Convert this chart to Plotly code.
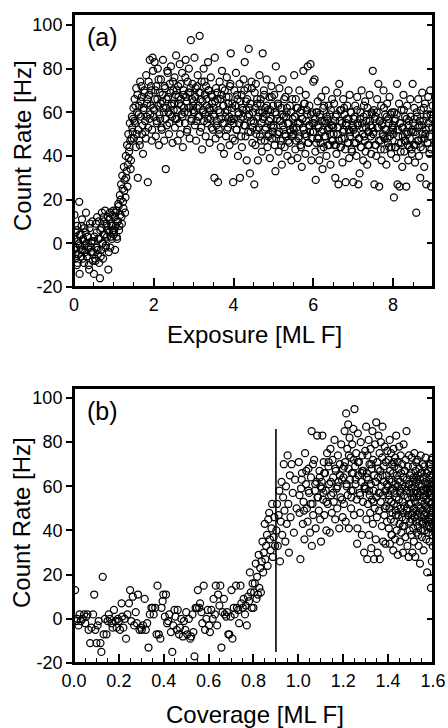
import plotly.graph_objects as go

# ---------------- data: panel (a) count rate vs exposure ----------------
exposure = [
    0.00,0.01,0.03,0.04,0.05,0.07,0.08,0.10,0.11,0.13,0.14,0.15,0.17,0.18,0.20,0.21,0.23,0.25,0.26,0.28,0.30,0.31,0.33,0.35,0.36,0.38,0.40,0.42,0.44,0.47,
    0.50,0.51,0.53,0.55,0.56,0.58,0.60,0.61,0.63,0.65,0.66,0.68,0.70,0.71,0.73,0.75,0.76,0.78,0.80,0.81,0.83,0.85,0.86,0.88,0.90,0.91,0.93,0.95,0.97,0.99,
    1.00,1.02,1.03,1.05,1.06,1.08,1.10,1.11,1.13,1.15,1.16,1.18,1.20,1.21,1.23,1.25,1.26,1.28,1.30,1.31,1.33,1.35,1.36,1.38,1.40,1.41,1.43,1.45,1.47,1.49,
    1.50,1.52,1.53,1.55,1.56,1.58,1.60,1.61,1.63,1.65,1.66,1.68,1.70,1.71,1.73,1.75,1.76,1.78,1.80,1.81,1.83,1.85,1.86,1.88,1.90,1.91,1.93,1.95,1.97,1.99,
    2.00,2.02,2.03,2.05,2.06,2.08,2.10,2.11,2.13,2.15,2.16,2.18,2.20,2.21,2.23,2.25,2.26,2.28,2.30,2.31,2.33,2.35,2.36,2.38,2.40,2.41,2.43,2.45,2.47,2.49,
    2.50,2.52,2.53,2.55,2.56,2.58,2.60,2.61,2.63,2.65,2.66,2.68,2.70,2.71,2.73,2.75,2.76,2.78,2.80,2.81,2.83,2.85,2.86,2.88,2.90,2.91,2.93,2.95,2.97,2.99,
    3.00,3.02,3.03,3.05,3.06,3.08,3.10,3.11,3.13,3.15,3.16,3.18,3.20,3.21,3.23,3.25,3.26,3.28,3.30,3.31,3.33,3.35,3.36,3.38,3.40,3.41,3.43,3.45,3.47,3.49,
    3.50,3.52,3.53,3.55,3.56,3.58,3.60,3.61,3.63,3.65,3.66,3.68,3.70,3.71,3.73,3.75,3.76,3.78,3.80,3.81,3.83,3.85,3.86,3.88,3.90,3.91,3.93,3.95,3.97,3.99,
    4.00,4.02,4.03,4.05,4.06,4.08,4.10,4.11,4.13,4.15,4.16,4.18,4.20,4.21,4.23,4.25,4.26,4.28,4.30,4.31,4.33,4.35,4.36,4.38,4.40,4.41,4.43,4.45,4.47,4.49,
    4.50,4.52,4.53,4.55,4.56,4.58,4.60,4.61,4.63,4.65,4.66,4.68,4.70,4.71,4.73,4.75,4.76,4.78,4.80,4.81,4.83,4.85,4.86,4.88,4.90,4.91,4.93,4.95,4.97,4.99,
    5.00,5.02,5.03,5.05,5.06,5.08,5.10,5.11,5.13,5.15,5.16,5.18,5.20,5.21,5.23,5.25,5.26,5.28,5.30,5.31,5.33,5.35,5.36,5.38,5.40,5.41,5.43,5.45,5.47,5.49,
    5.50,5.52,5.53,5.55,5.56,5.58,5.60,5.61,5.63,5.65,5.66,5.68,5.70,5.71,5.73,5.75,5.76,5.78,5.80,5.81,5.83,5.85,5.86,5.88,5.90,5.91,5.93,5.95,5.97,5.99,
    6.00,6.02,6.03,6.05,6.06,6.08,6.10,6.11,6.13,6.15,6.16,6.18,6.20,6.21,6.23,6.25,6.26,6.28,6.30,6.31,6.33,6.35,6.36,6.38,6.40,6.41,6.43,6.45,6.47,6.49,
    6.50,6.52,6.53,6.55,6.56,6.58,6.60,6.61,6.63,6.65,6.66,6.68,6.70,6.71,6.73,6.75,6.76,6.78,6.80,6.81,6.83,6.85,6.86,6.88,6.90,6.91,6.93,6.95,6.97,6.99,
    7.00,7.02,7.03,7.05,7.06,7.08,7.10,7.11,7.13,7.15,7.16,7.18,7.20,7.21,7.23,7.25,7.26,7.28,7.30,7.31,7.33,7.35,7.36,7.38,7.40,7.41,7.43,7.45,7.47,7.49,
    7.50,7.52,7.53,7.55,7.56,7.58,7.60,7.61,7.63,7.65,7.66,7.68,7.70,7.71,7.73,7.75,7.76,7.78,7.80,7.81,7.83,7.85,7.86,7.88,7.90,7.91,7.93,7.95,7.97,7.99,
    8.00,8.02,8.03,8.05,8.06,8.08,8.10,8.11,8.13,8.15,8.16,8.18,8.20,8.21,8.23,8.25,8.26,8.28,8.30,8.31,8.33,8.35,8.36,8.38,8.40,8.41,8.43,8.45,8.47,8.49,
    8.50,8.52,8.53,8.55,8.56,8.58,8.60,8.61,8.63,8.65,8.66,8.68,8.70,8.71,8.73,8.75,8.76,8.78,8.80,8.81,8.83,8.85,8.86,8.88,8.90,8.91,8.93,8.95,8.97,8.99,
    # second pass of readings (interleaved points)
    0.01,0.04,0.07,0.09,0.12,0.14,0.17,0.19,0.22,0.24,0.27,0.29,0.32,0.34,0.37,0.39,0.42,0.44,0.46,0.48,
    0.51,0.54,0.57,0.59,0.62,0.64,0.67,0.69,0.72,0.74,0.77,0.79,0.82,0.84,0.87,0.89,0.92,0.94,0.96,0.98,
    1.01,1.04,1.07,1.09,1.12,1.14,1.17,1.19,1.22,1.24,1.27,1.29,1.32,1.34,1.37,1.39,1.42,1.44,1.46,1.48,
    1.51,1.54,1.57,1.59,1.62,1.64,1.67,1.69,1.72,1.74,1.77,1.79,1.82,1.84,1.87,1.89,1.92,1.94,1.96,1.98,
    2.01,2.04,2.07,2.09,2.12,2.14,2.17,2.19,2.22,2.24,2.27,2.29,2.32,2.34,2.37,2.39,2.42,2.44,2.46,2.48,
    2.51,2.54,2.57,2.59,2.62,2.64,2.67,2.69,2.72,2.74,2.77,2.79,2.82,2.84,2.87,2.89,2.92,2.94,2.96,2.98,
    3.01,3.04,3.07,3.09,3.12,3.14,3.17,3.19,3.22,3.24,3.27,3.29,3.32,3.34,3.37,3.39,3.42,3.44,3.46,3.48,
    3.51,3.54,3.57,3.59,3.62,3.64,3.67,3.69,3.72,3.74,3.77,3.79,3.82,3.84,3.87,3.89,3.92,3.94,3.96,3.98,
    4.01,4.04,4.07,4.09,4.12,4.14,4.17,4.19,4.22,4.24,4.27,4.29,4.32,4.34,4.37,4.39,4.42,4.44,4.46,4.48,
    4.51,4.54,4.57,4.59,4.62,4.64,4.67,4.69,4.72,4.74,4.77,4.79,4.82,4.84,4.87,4.89,4.92,4.94,4.96,4.98,
    5.01,5.04,5.07,5.09,5.12,5.14,5.17,5.19,5.22,5.24,5.27,5.29,5.32,5.34,5.37,5.39,5.42,5.44,5.46,5.48,
    5.51,5.54,5.57,5.59,5.62,5.64,5.67,5.69,5.72,5.74,5.77,5.79,5.82,5.84,5.87,5.89,5.92,5.94,5.96,5.98,
    6.01,6.04,6.07,6.09,6.12,6.14,6.17,6.19,6.22,6.24,6.27,6.29,6.32,6.34,6.37,6.39,6.42,6.44,6.46,6.48,
    6.51,6.54,6.57,6.59,6.62,6.64,6.67,6.69,6.72,6.74,6.77,6.79,6.82,6.84,6.87,6.89,6.92,6.94,6.96,6.98,
    7.01,7.04,7.07,7.09,7.12,7.14,7.17,7.19,7.22,7.24,7.27,7.29,7.32,7.34,7.37,7.39,7.42,7.44,7.46,7.48,
    7.51,7.54,7.57,7.59,7.62,7.64,7.67,7.69,7.72,7.74,7.77,7.79,7.82,7.84,7.87,7.89,7.92,7.94,7.96,7.98,
    8.01,8.04,8.07,8.09,8.12,8.14,8.17,8.19,8.22,8.24,8.27,8.29,8.32,8.34,8.37,8.39,8.42,8.44,8.46,8.48,
    8.51,8.54,8.57,8.59,8.62,8.64,8.67,8.69,8.72,8.74,8.77,8.79,8.82,8.84,8.87,8.89,8.92,8.94,8.96,8.98,
]
rate_a = [
    -3,13,-7,5,-2,-10,8,1,-5,19,-14,-1,4,-6,11,-3,2,-9,7,-4,14,0,-6,3,-2,-12,9,-4,1,-8,
    -14,3,-7,9,-2,12,-5,2,-9,-16,6,-3,14,0,-7,10,4,15,-1,8,3,12,-12,5,14,-2,9,2,6,15,
    4,12,-3,8,15,2,10,18,6,22,13,27,9,31,19,35,24,14,40,30,45,36,50,42,55,47,38,58,51,62,
    48,66,55,44,71,60,30,52,63,45,74,58,67,50,41,62,70,56,48,77,64,28,53,68,84,59,72,47,85,62,
    58,83,66,49,72,55,80,63,45,69,57,75,52,65,84,60,47,71,34,62,54,78,67,50,73,59,81,64,46,70,
    61,76,53,68,86,57,47,72,64,82,50,66,59,78,44,70,62,55,84,67,51,74,60,80,48,69,93,57,73,63,
    65,85,54,71,47,62,77,58,69,95,51,66,74,43,60,80,56,68,49,72,63,57,83,70,46,61,76,53,67,59,
    62,30,85,48,71,56,66,28,52,74,60,44,68,79,55,63,41,70,58,49,76,61,53,67,45,72,87,57,64,28,
    55,70,47,63,78,52,66,40,59,73,30,57,68,44,61,75,54,83,49,65,38,71,58,89,62,32,51,74,46,60,
    56,27,69,45,73,52,64,38,60,77,49,66,55,42,87,58,70,47,62,53,75,44,61,50,67,39,57,72,48,63,
    54,68,45,33,81,59,50,64,42,71,56,47,62,36,75,52,58,44,67,49,60,40,55,70,46,63,51,38,66,53,
    50,77,58,43,66,53,39,62,48,70,55,45,61,35,57,79,52,64,41,68,49,59,81,46,63,54,82,38,60,51,
    74,55,75,42,29,60,48,65,53,38,58,46,67,51,34,62,44,56,49,70,40,57,52,63,45,59,36,54,66,47,
    53,64,45,30,58,41,69,50,27,73,56,44,61,48,37,66,52,59,43,28,55,63,46,57,39,68,51,60,42,54,
    28,57,46,63,50,40,67,55,27,48,32,60,44,70,53,38,58,49,65,42,56,36,62,51,45,68,54,41,59,79,
    50,61,27,45,58,40,66,53,73,26,56,47,63,38,55,49,70,43,59,52,36,64,48,57,44,67,51,41,60,54,
    52,21,60,44,57,39,73,27,49,64,26,55,46,61,35,53,68,42,58,47,26,63,50,38,56,44,66,51,41,73,
    55,45,62,37,51,14,58,47,66,40,54,30,61,48,69,43,56,35,64,50,27,59,46,67,53,41,70,26,57,63,
    # second pass of readings (interleaved points)
    2,-5,6,-9,0,4,-3,8,-7,1,-1,5,-6,3,-10,7,-2,0,10,-4,
    1,-8,5,-3,10,2,-6,7,0,12,4,-2,9,6,-4,11,3,8,13,5,
    6,14,3,10,17,8,20,12,25,16,29,21,33,26,39,44,34,48,53,57,
    56,63,50,68,59,47,65,72,54,61,69,51,58,66,74,57,63,70,52,79,
    61,70,56,66,75,59,64,53,68,62,72,57,66,79,60,55,69,63,58,74,
    64,57,70,61,67,55,73,63,58,68,60,76,65,52,69,62,71,56,66,61,
    60,67,56,72,63,58,69,53,65,61,74,59,66,55,70,62,57,68,64,52,
    58,65,54,69,61,50,66,57,71,63,55,60,67,52,64,58,73,56,62,48,
    57,63,52,68,60,55,65,49,62,58,70,54,61,66,51,59,64,56,71,53,
    55,62,50,66,58,53,64,47,60,57,68,52,59,63,49,56,61,54,67,51,
    53,60,48,57,63,51,56,45,59,54,66,50,58,62,47,55,52,60,49,57,
    52,58,47,62,55,49,60,44,57,53,64,50,56,61,46,54,51,59,48,55,
    51,57,46,60,54,48,59,43,56,52,63,49,55,58,45,53,50,61,47,54,
    50,56,45,59,53,47,61,44,55,51,62,48,54,57,46,52,49,60,43,53,
    52,58,46,61,54,48,57,44,55,50,63,47,53,59,45,51,56,49,60,53,
    51,57,45,60,53,47,56,43,54,50,62,48,52,58,46,55,49,59,44,53,
    50,56,44,59,52,46,55,42,53,49,61,47,51,57,45,54,48,58,43,52,
    51,57,45,60,53,47,56,44,54,50,62,48,52,58,46,55,49,59,43,53,
]

# ---------------- data: panel (b) count rate vs coverage ----------------
coverage = [
    0.005,0.010,0.015,0.020,0.025,0.030,0.038,0.045,0.050,0.055,0.060,0.065,0.072,0.078,0.085,0.090,0.095,0.100,
    0.105,0.110,0.118,0.122,0.128,0.132,0.138,0.145,0.150,0.155,0.160,0.168,0.172,0.178,0.185,0.190,0.196,
    0.200,0.205,0.212,0.215,0.220,0.226,0.232,0.238,0.245,0.250,0.255,0.262,0.268,0.275,0.280,0.285,0.292,0.298,
    0.302,0.308,0.315,0.320,0.326,0.332,0.338,0.345,0.350,0.355,0.362,0.368,0.372,0.378,0.385,0.390,0.395,0.398,
    0.405,0.410,0.415,0.420,0.425,0.432,0.438,0.442,0.448,0.452,0.458,0.462,0.468,0.472,0.478,0.485,0.490,0.496,
    0.500,0.505,0.512,0.518,0.522,0.528,0.532,0.537,0.542,0.548,0.552,0.558,0.562,0.568,0.572,0.578,0.584,0.590,0.596,
    0.602,0.606,0.612,0.618,0.622,0.628,0.632,0.638,0.642,0.648,0.652,0.657,0.662,0.668,0.672,0.678,0.682,0.688,0.692,0.698,
    0.702,0.706,0.712,0.716,0.722,0.726,0.732,0.736,0.742,0.746,0.752,0.756,0.762,0.766,0.770,0.775,0.780,0.784,0.788,0.792,0.796,
    0.800,0.803,0.806,0.810,0.813,0.816,0.820,0.823,0.826,0.830,0.833,0.836,0.840,0.843,0.846,0.850,0.853,0.856,0.860,0.863,
    0.866,0.870,0.873,0.876,0.880,0.883,0.886,0.890,0.893,0.896,
    0.902,0.905,0.908,0.912,0.915,0.918,0.922,0.925,0.928,0.932,0.935,0.938,0.942,0.945,0.948,0.952,0.955,0.958,0.962,0.965,
    0.970,0.975,0.980,0.985,0.992,
    1.002,1.005,1.009,1.012,1.016,1.020,1.023,1.027,1.030,1.034,1.038,1.041,1.045,1.048,1.052,1.056,1.059,1.063,1.066,1.070,
    1.074,1.077,1.081,1.084,1.088,1.091,1.094,1.097,1.099,1.060,
    1.101,1.104,1.107,1.110,1.113,1.116,1.119,1.122,1.125,1.128,1.131,1.134,1.137,1.140,1.143,1.146,1.149,1.152,1.155,1.158,
    1.161,1.164,1.167,1.170,1.173,1.176,1.179,1.182,1.185,1.188,1.191,1.194,1.197,1.199,1.112,
    1.201,1.203,1.206,1.208,1.211,1.213,1.215,1.218,1.220,1.223,1.225,1.228,1.230,1.233,1.235,1.238,1.240,1.243,1.245,1.248,
    1.250,1.253,1.255,1.258,1.260,1.263,1.265,1.268,1.270,1.273,1.275,1.278,1.280,1.283,1.285,1.288,1.290,1.293,1.295,1.298,
    1.222,1.247,1.262,1.284,1.236,
    1.300,1.302,1.303,1.305,1.307,1.308,1.310,1.312,1.313,1.315,1.317,1.318,1.320,1.322,1.323,1.325,1.327,1.328,1.330,1.332,
    1.333,1.335,1.337,1.338,1.340,1.342,1.343,1.345,1.347,1.348,1.350,1.352,1.353,1.355,1.357,1.358,1.360,1.362,1.363,1.365,
    1.367,1.368,1.370,1.372,1.373,1.375,1.377,1.378,1.380,1.382,1.383,1.385,1.387,1.388,1.390,1.392,1.393,1.395,1.397,1.399,
    1.401,1.402,1.403,1.405,1.406,1.407,1.408,1.409,1.411,1.412,
    1.413,1.414,1.416,1.417,1.418,1.419,1.421,1.422,1.423,1.424,
    1.426,1.427,1.428,1.429,1.431,1.432,1.433,1.434,1.436,1.437,
    1.438,1.439,1.441,1.442,1.443,1.444,1.446,1.447,1.448,1.449,
    1.451,1.452,1.453,1.454,1.456,1.457,1.458,1.459,1.461,1.462,
    1.463,1.464,1.466,1.467,1.468,1.469,1.471,1.472,1.473,1.474,
    1.476,1.477,1.478,1.479,1.481,1.482,1.483,1.484,1.486,1.487,
    1.488,1.489,1.491,1.492,1.493,1.494,1.496,1.497,1.498,1.499,
    1.404,1.415,1.425,1.435,1.445,1.455,1.465,1.475,1.485,1.495,
    1.501,1.502,1.503,1.504,1.505,1.506,1.507,1.508,1.509,1.510,
    1.511,1.512,1.513,1.514,1.515,1.516,1.517,1.518,1.519,1.520,
    1.521,1.522,1.523,1.524,1.525,1.526,1.527,1.528,1.529,1.530,
    1.531,1.532,1.533,1.534,1.535,1.536,1.537,1.538,1.539,1.540,
    1.541,1.542,1.543,1.544,1.545,1.546,1.547,1.548,1.549,1.550,
    1.551,1.552,1.553,1.554,1.555,1.556,1.557,1.558,1.559,1.560,
    1.561,1.562,1.563,1.564,1.565,1.566,1.567,1.568,1.569,1.570,
    1.571,1.572,1.573,1.574,1.575,1.576,1.577,1.578,1.579,1.580,
    1.581,1.582,1.583,1.584,1.585,1.586,1.587,1.588,1.589,1.590,
    1.591,1.592,1.593,1.594,1.595,1.596,1.597,1.598,1.599,1.600,
    1.584,1.588,1.592,1.596,1.599,1.586,1.590,1.594,1.597,1.582,
    1.575,1.565,1.555,1.545,1.535,1.525,1.515,1.505,1.595,1.598,
    1.005,1.015,1.025,1.035,1.045,1.055,1.065,1.075,1.085,1.095,
    1.105,1.115,1.125,1.135,1.145,1.155,1.165,1.175,1.185,1.195,
    1.205,1.215,1.225,1.235,1.245,1.255,1.265,1.275,1.285,1.295,
    1.305,1.315,1.325,1.335,1.345,1.355,1.365,1.375,1.385,1.395,
]
rate_b = [
    13,-1,0,-3,2,-1,0,2,-2,1,2,-5,-11,-4,2,11,-5,-11,
    -3,-1,-11,-15,19,-7,0,-7,-1,2,0,-2,-4,4,-1,-4,0,
    -1,-5,7,1,-4,0,-9,2,7,13,-1,10,-3,3,-2,11,-5,-4,
    -5,-3,9,-5,-2,-13,2,5,5,2,5,-7,15,-7,-9,5,8,11,
    1,11,-2,-1,2,-6,-15,-3,4,1,-5,4,-7,-4,0,-8,-1,-5,
    3,-7,0,-9,-8,2,-6,-17,5,5,13,5,7,3,-2,15,-5,0,4,
    -3,-6,4,0,9,2,15,-3,11,6,15,-13,3,9,2,1,3,-7,-7,1,
    13,-9,5,2,15,5,4,-2,15,7,5,9,2,6,-3,10,8,21,12,5,16,
    5,12,16,25,9,19,11,29,14,23,12,26,35,21,30,43,27,33,38,24,
    45,48,36,31,41,52,28,37,46,33,
    40,52,33,47,58,26,44,62,38,55,70,49,35,60,43,74,52,30,65,46,
    70,57,39,63,50,
    71,48,27,59,66,43,53,36,75,61,50,44,68,57,39,64,85,52,47,72,
    58,41,62,83,55,49,67,45,60,33,
    35,62,83,54,71,47,66,58,40,75,52,69,61,39,77,56,48,72,64,53,
    81,45,67,59,50,74,62,41,70,55,79,63,46,68,57,
    64,52,85,71,44,93,60,77,56,68,41,82,63,73,50,66,79,58,86,47,
    95,69,61,75,54,41,84,65,71,57,48,80,62,38,74,53,67,30,59,76,
    88,72,34,66,55,
    59,87,45,66,27,74,52,63,81,38,70,56,48,77,61,32,68,54,85,43,
    72,58,27,65,50,79,62,36,89,55,46,71,30,64,83,57,49,75,27,67,
    53,80,60,42,73,87,56,35,69,62,47,78,58,34,71,51,65,44,76,60,
    56,72,41,63,50,81,34,67,58,45,
    75,53,62,38,70,48,59,66,31,77,
    52,44,69,57,36,73,61,49,83,55,
    40,65,51,71,29,60,47,68,54,78,
    43,62,35,57,74,50,66,39,59,46,
    70,53,30,64,48,79,56,42,67,51,
    60,37,72,45,58,85,49,63,33,55,
    69,47,61,28,74,52,40,65,57,44,
    54,38,71,47,63,58,42,67,50,61,
    52,66,38,59,45,73,55,30,62,48,
    69,41,57,64,35,50,75,46,60,53,
    28,67,44,58,71,49,39,63,55,47,
    72,57,42,65,51,33,61,48,68,44,
    56,25,63,50,74,40,58,46,66,53,
    37,60,49,70,43,55,64,31,58,47,
    69,52,40,62,56,45,73,48,59,36,
    54,66,42,21,61,50,57,44,67,39,
    53,63,46,70,35,58,49,65,41,56,
    14,60,47,72,52,43,64,38,55,50,
    61,45,68,53,33,57,70,48,62,42,
    59,51,44,66,38,62,55,47,26,73,
    56,63,49,67,58,52,70,61,55,64,
    59,66,53,71,62,57,68,60,65,54,
    69,61,74,58,66,63,71,56,67,60,
    64,58,70,53,62,68,57,65,50,61,
]

# marker line at the critical coverage
critical_coverage = [0.9, 0.9]
critical_line_rate = [-15, 86]

y_tick_values = [-20, 0, 20, 40, 60, 80, 100]
y_tick_text = ["-20", "0", "20", "40", "60", "80", "100"]
x_tick_values_a = [0, 2, 4, 6, 8]
x_tick_values_b = [0.0, 0.2, 0.4, 0.6, 0.8, 1.0, 1.2, 1.4, 1.6]
x_tick_text_b = ["0.0", "0.2", "0.4", "0.6", "0.8", "1.0", "1.2", "1.4", "1.6"]
panel_labels = ["(a)", "(b)"]
x_titles = ["Exposure [ML F]", "Coverage [ML F]"]
y_title = "Count Rate [Hz]"

FONT = "Liberation Sans, Arial, Helvetica, sans-serif"
marker_style = dict(symbol="circle-open", size=7, color="black", line=dict(width=1.25, color="black"))

fig = go.Figure()
fig.add_trace(go.Scatter(x=exposure, y=rate_a, mode="markers", marker=marker_style,
                         xaxis="x", yaxis="y", showlegend=False, hoverinfo="skip"))
fig.add_trace(go.Scatter(x=coverage, y=rate_b, mode="markers", marker=marker_style,
                         xaxis="x2", yaxis="y2", showlegend=False, hoverinfo="skip"))
fig.add_trace(go.Scatter(x=critical_coverage, y=critical_line_rate, mode="lines",
                         line=dict(color="black", width=1.6),
                         xaxis="x2", yaxis="y2", showlegend=False, hoverinfo="skip"))
# empty helper traces so the right-hand (inward tick) axes are drawn
fig.add_trace(go.Scatter(x=[None], y=[None], mode="markers", xaxis="x", yaxis="y3",
                         showlegend=False, hoverinfo="skip"))
fig.add_trace(go.Scatter(x=[None], y=[None], mode="markers", xaxis="x2", yaxis="y4",
                         showlegend=False, hoverinfo="skip"))

xdom = [0.1652, 0.9665]
ydom_a = [0.6058, 0.9808]
ydom_b = [0.0893, 0.4670]

def xax(anchor, rng, tickvals, ticktext, minor_dtick):
    return dict(
        domain=xdom, anchor=anchor, range=rng,
        tickvals=tickvals, ticktext=ticktext,
        ticks="inside", ticklen=9, tickwidth=1.5, tickcolor="black",
        minor=dict(ticks="inside", ticklen=5, tickwidth=1.3, tickcolor="black", dtick=minor_dtick, tick0=0),
        showline=True, linecolor="black", linewidth=2, mirror=True,
        showgrid=False, zeroline=False, automargin=False,
        tickfont=dict(family=FONT, size=18, color="black"),
    )

def yax(dom, anchor, rng):
    return dict(
        domain=dom, anchor=anchor, range=rng,
        tickvals=y_tick_values, ticktext=y_tick_text,
        ticks="outside", ticklen=6, tickwidth=1.5, tickcolor="black",
        showline=True, linecolor="black", linewidth=2, mirror=True,
        showgrid=False, zeroline=False, automargin=False,
        tickfont=dict(family=FONT, size=18, color="black"),
    )

def yright(over, anchor, rng):
    return dict(
        overlaying=over, anchor=anchor, side="right", range=rng,
        tickvals=y_tick_values, showticklabels=False,
        ticks="inside", ticklen=6, tickwidth=1.5, tickcolor="black",
        showline=True, linecolor="black", linewidth=2,
        showgrid=False, zeroline=False, automargin=False,
    )

yrange_a = [-20, 105]
yrange_b = [-20, 104.5]

title_font = dict(family=FONT, size=24, color="black")
label_font = dict(family=FONT, size=25, color="black")

frame = dict(type="rect", x0=0, x1=1, y0=0, y1=1, layer="above",
             line=dict(color="black", width=2), fillcolor="rgba(0,0,0,0)")

fig.update_layout(
    width=448, height=728,
    margin=dict(l=0, r=0, t=0, b=0),
    paper_bgcolor="white", plot_bgcolor="white",
    font=dict(family=FONT, color="black"),
    xaxis=xax("y", [0, 9], x_tick_values_a, None, 0.5),
    yaxis=yax(ydom_a, "x", yrange_a),
    xaxis2=xax("y2", [0, 1.6], x_tick_values_b, x_tick_text_b, 0.05),
    yaxis2=yax(ydom_b, "x2", yrange_b),
    yaxis3=yright("y", "x", yrange_a),
    yaxis4=yright("y2", "x2", yrange_b),
    shapes=[
        dict(frame, xref="x domain", yref="y domain"),
        dict(frame, xref="x2 domain", yref="y2 domain"),
    ],
    annotations=[
        dict(text=panel_labels[0], xref="x domain", yref="y domain", x=0.03, y=0.975,
             xanchor="left", yanchor="top", showarrow=False, font=label_font),
        dict(text=panel_labels[1], xref="x2 domain", yref="y2 domain", x=0.03, y=0.975,
             xanchor="left", yanchor="top", showarrow=False, font=label_font),
        dict(text=x_titles[0], xref="paper", yref="paper", x=0.569, y=0.5412,
             xanchor="center", yanchor="middle", showarrow=False, font=title_font),
        dict(text=x_titles[1], xref="paper", yref="paper", x=0.569, y=0.0185,
             xanchor="center", yanchor="middle", showarrow=False, font=title_font),
        dict(text=y_title, xref="paper", yref="paper", x=0.0491, y=0.8008, textangle=-90,
             xanchor="center", yanchor="middle", showarrow=False, font=title_font),
        dict(text=y_title, xref="paper", yref="paper", x=0.0491, y=0.283, textangle=-90,
             xanchor="center", yanchor="middle", showarrow=False, font=title_font),
    ],
)

fig.write_html(
    "out.html",
    post_script="document.body.style.margin='0';document.body.style.overflow='hidden';document.documentElement.style.overflow='hidden';",
    config={"displayModeBar": False},
)
